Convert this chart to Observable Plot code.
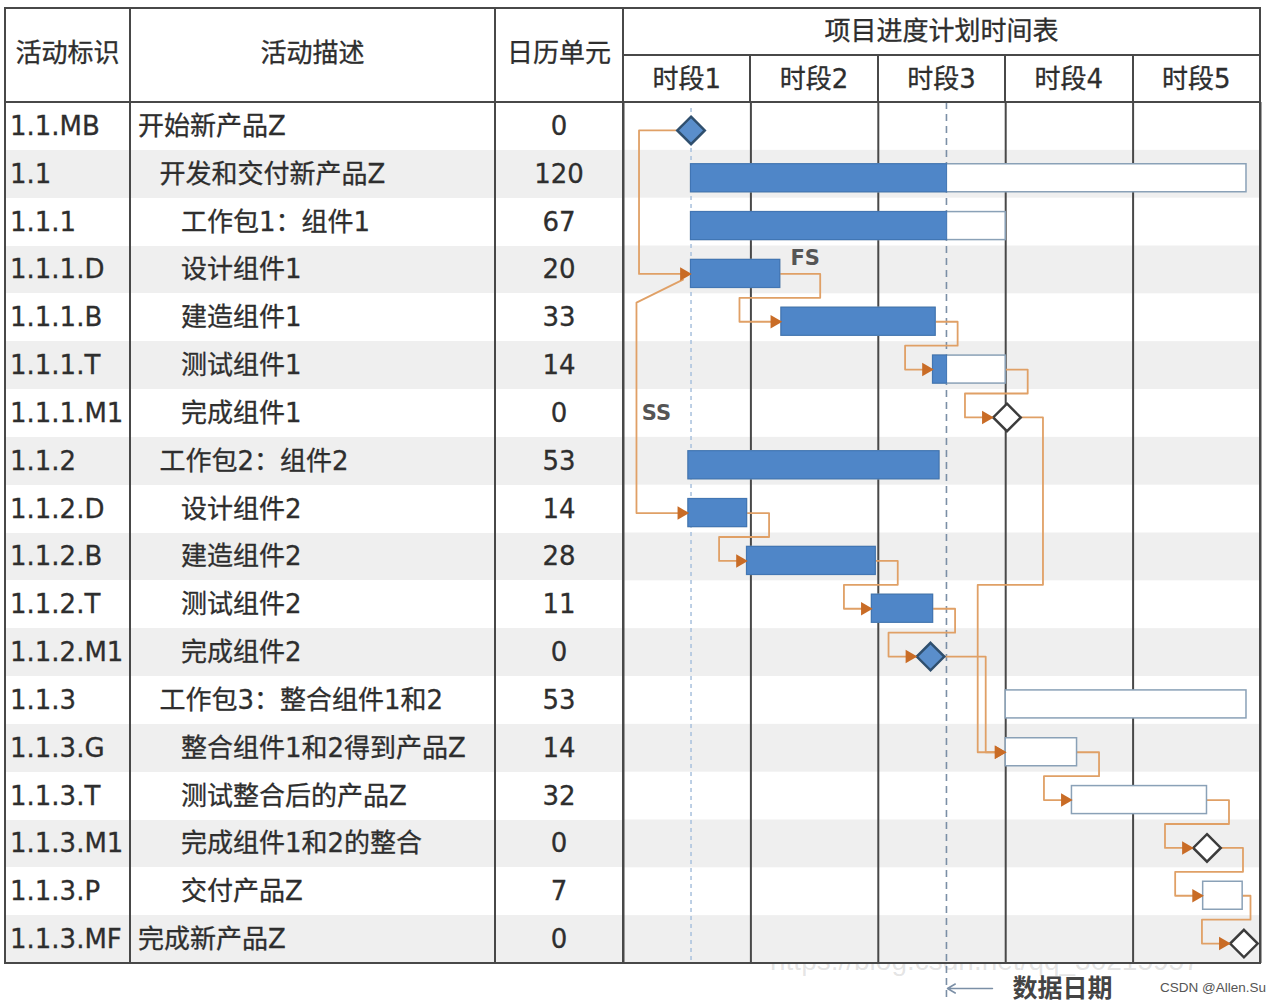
<!DOCTYPE html>
<html lang="zh">
<head>
<meta charset="utf-8">
<script src="https://cdn.jsdelivr.net/npm/d3@7"></script>
<script src="https://cdn.jsdelivr.net/npm/@observablehq/plot@0.6"></script>
<style>
html,body{margin:0;padding:0;background:#fff;}
#page{position:relative;width:1274px;height:1002px;overflow:hidden;
  font-family:"DejaVu Sans","Noto Sans CJK SC",sans-serif;color:#2e2e2e;}
.t{position:absolute;display:flex;align-items:center;white-space:nowrap;font-size:26px;line-height:1;-webkit-text-stroke:0.3px #2e2e2e;}
.c{justify-content:center;}
</style>
</head>
<body>
<div id="page"></div>
<script>
// ---------------- data ----------------
const headers = ["活动标识", "活动描述", "日历单元"];
const scheduleTitle = "项目进度计划时间表";
const periods = ["时段1", "时段2", "时段3", "时段4", "时段5"];

const ids = ["1.1.MB", "1.1", "1.1.1", "1.1.1.D", "1.1.1.B", "1.1.1.T", "1.1.1.M1",
  "1.1.2", "1.1.2.D", "1.1.2.B", "1.1.2.T", "1.1.2.M1",
  "1.1.3", "1.1.3.G", "1.1.3.T", "1.1.3.M1", "1.1.3.P", "1.1.3.MF"];
const descs = ["开始新产品Z", "开发和交付新产品Z", "工作包1：组件1", "设计组件1", "建造组件1", "测试组件1", "完成组件1",
  "工作包2：组件2", "设计组件2", "建造组件2", "测试组件2", "完成组件2",
  "工作包3：整合组件1和2", "整合组件1和2得到产品Z", "测试整合后的产品Z", "完成组件1和2的整合", "交付产品Z", "完成新产品Z"];
const levels = [0, 1, 2, 2, 2, 2, 2, 1, 2, 2, 2, 2, 1, 2, 2, 2, 2, 0];
const durations = [0, 120, 67, 20, 33, 14, 0, 53, 14, 28, 11, 0, 53, 14, 32, 0, 7, 0];
const starts = [0.53, 0.53, 0.53, 0.53, 1.24, 2.43, 3.01, 0.51, 0.51, 0.97, 1.95, 2.41, 3.00, 3.00, 3.52, 4.58, 4.55, 4.87];
const ends   = [0.53, 4.89, 3.00, 1.23, 2.45, 3.00, 3.01, 2.48, 0.97, 1.98, 2.43, 2.41, 4.89, 3.56, 4.58, 4.58, 4.86, 4.87];
// fraction complete at the data date
const progress = [1, 0.461, 0.814, 1, 1, 0.193, 0, 1, 1, 1, 1, 1, 0, 0, 0, 0, 0, 0];
const dataDate = 2.535;
const dataDateLabel = "数据日期";
const links = [
  {from: "1.1.MB", to: "1.1.1.D", type: "SS"},
  {from: "1.1.1.D", to: "1.1.2.D", type: "SS", label: true},
  {from: "1.1.1.D", to: "1.1.1.B", type: "FS", label: true},
  {from: "1.1.1.B", to: "1.1.1.T", type: "FS"},
  {from: "1.1.1.T", to: "1.1.1.M1", type: "FS"},
  {from: "1.1.1.M1", to: "1.1.3.G", type: "FS"},
  {from: "1.1.2.D", to: "1.1.2.B", type: "FS"},
  {from: "1.1.2.B", to: "1.1.2.T", type: "FS"},
  {from: "1.1.2.T", to: "1.1.2.M1", type: "FS"},
  {from: "1.1.2.M1", to: "1.1.3.G", type: "FS"},
  {from: "1.1.3.G", to: "1.1.3.T", type: "FS"},
  {from: "1.1.3.T", to: "1.1.3.M1", type: "FS"},
  {from: "1.1.3.M1", to: "1.1.3.P", type: "FS"},
  {from: "1.1.3.P", to: "1.1.3.MF", type: "FS"}
];
const watermark = "https://blog.csdn.net/qq_30215957";
const credit = "CSDN @Allen.Su";

// ---------------- layout ----------------
const L = {left: 5, right: 1260, top: 8, headMid: 55, headBottom: 102, bottom: 963,
  colEdges: [5, 130, 495, 623], idPad: 5, descPad: 8, indent: 21.5};
const LINE = "#484848";
const STRIPE = "#efefef";
const page = document.getElementById("page");
const rowH = (L.bottom - L.headBottom) / ids.length;
const ganttW = L.right - L.colEdges[3];
const perW = ganttW / periods.length;

function box(style, text, cls) {
  const e = document.createElement("div");
  if (cls) e.className = cls;
  Object.assign(e.style, {position: "absolute"}, style);
  if (text != null) e.textContent = text;
  page.appendChild(e);
  return e;
}
const px = v => v + "px";

// stripes (left part)
ids.forEach((id, i) => {
  if (i % 2 === 1) box({left: px(L.left), top: px(L.headBottom + i * rowH), width: px(L.colEdges[3] - L.left), height: px(rowH), background: STRIPE});
});

// watermark (under everything else)
box({left: "770px", top: "947px", fontFamily: "Liberation Sans, sans-serif", fontSize: "28px", lineHeight: "28px", color: "rgba(120,120,120,0.2)", whiteSpace: "nowrap"}, watermark);

// ---------------- gantt (Plot) ----------------
const rows = ids.map((id, i) => ({id, i, s: starts[i], e: ends[i], pct: progress[i], ms: durations[i] === 0}));
const byId = new Map(rows.map(r => [r.id, r]));
const tasks = rows.filter(r => !r.ms);
const gH = L.bottom - L.headBottom;
const upx = periods.length / ganttW;      // period units per pixel
const rpx = ids.length / gH;              // rows per pixel
const dh = 14 * upx;                      // half width of a milestone diamond
const bh = 14 * rpx;                      // half height of a bar
const GDY = 4;

const linkPts = [], heads = [], labels = [];
links.forEach((lk, k) => {
  const a = byId.get(lk.from), b = byId.get(lk.to);
  const xs = b.s - (b.ms ? dh : 0);
  let pts;
  if (lk.type === "SS") {
    const xv = Math.min(a.s, b.s) - 52 * upx;
    pts = a.ms
      ? [[a.s - dh, a.i], [xv, a.i], [xv, b.i], [xs, b.i]]
      : [[a.s - 8 * upx, a.i + 0.12], [xv, a.i + 0.6], [xv, b.i], [xs, b.i]];
    if (lk.label) labels.push({x: xv + 20 * upx, y: Math.round((a.i + b.i) / 2), text: lk.type});
  } else {
    const xe = a.e + (a.ms ? dh : 0);
    if (xs - xe > 40 * upx) {
      const xm = xs - 20 * upx;
      pts = [[xe, a.i], [xm, a.i], [xm, b.i], [xs, b.i]];
    } else {
      const xr = Math.min(xe + (lk.label ? 40 : 22) * upx, periods.length - 10 * upx);
      const xl = xs - (lk.label ? 42 : 28) * upx;
      const ym = Math.floor((a.i + b.i) / 2) + 0.5;
      pts = [[xe, a.i], [xr, a.i], [xr, ym], [xl, ym], [xl, b.i], [xs, b.i]];
    }
    if (lk.label) labels.push({x: xe + 25 * upx, y: a.i - 12 * rpx, text: lk.type});
  }
  pts.forEach(([x, y]) => linkPts.push({k, x, y}));
  heads.push({x: xs, y: b.i});
});

const yLab = ids.length - 0.5 + 25 * rpx;
const mL = 3, mR = 3, mB = 40;

const chart = Plot.plot({
  width: ganttW + mL + mR,
  height: gH + mB,
  marginLeft: mL, marginRight: mR, marginTop: 0, marginBottom: mB,
  x: {domain: [0, periods.length], axis: null},
  y: {domain: [-0.5, ids.length - 0.5], reverse: true, axis: null},
  style: {background: "transparent", overflow: "visible", fontFamily: "DejaVu Sans, Noto Sans CJK SC, sans-serif"},
  marks: [
    Plot.rect(rows.filter(r => r.i % 2 === 1), {y1: r => r.i - 0.5, y2: r => r.i + 0.5, fill: STRIPE}),
    Plot.ruleX([byId.get(ids[0]).s], {stroke: "#a8c0dd", strokeWidth: 1.5, strokeDasharray: "4,4", insetTop: 6}),
    Plot.ruleX([dataDate], {stroke: "#7b8fa6", strokeWidth: 1.6, strokeDasharray: "7,5", insetBottom: -36}),
    Plot.ruleX(d3.range(periods.length + 1), {stroke: LINE, strokeWidth: 2}),
    Plot.line(linkPts, {x: "x", y: "y", z: "k", stroke: "#e0a066", strokeWidth: 1.8, dy: GDY}),
    Plot.rect(tasks, {x1: "s", x2: "e", y1: r => r.i - bh, y2: r => r.i + bh, fill: "white", stroke: "#8aa1b7", strokeWidth: 1.5, dy: GDY}),
    Plot.rect(tasks.filter(r => r.pct > 0), {x1: "s", x2: r => r.s + r.pct * (r.e - r.s), y1: r => r.i - bh, y2: r => r.i + bh, fill: "#4f86c8", stroke: "#3f74b3", strokeWidth: 1, dy: GDY}),
    Plot.dot(rows.filter(r => r.ms && r.pct >= 1), {x: "s", y: "i", symbol: "diamond2", r: 12.4, fill: "#5a8ecb", stroke: "#2f4f6e", strokeWidth: 2.5, dy: GDY}),
    Plot.dot(rows.filter(r => r.ms && r.pct < 1), {x: "s", y: "i", symbol: "diamond2", r: 12.4, fill: "white", stroke: "#3c3c3c", strokeWidth: 2.5, dy: GDY}),
    Plot.dot(heads, {x: "x", y: "y", symbol: "triangle", rotate: 90, r: 5, fill: "#c96c26", stroke: "none", dx: -7, dy: GDY}),
    Plot.text(labels, {x: "x", y: "y", text: "text", fontSize: 21, fontWeight: "bold", fill: "#555"}),
    Plot.arrow([{x1: dataDate + 46 * upx, x2: dataDate + 1 * upx, y: yLab}], {x1: "x1", x2: "x2", y1: "y", y2: "y", stroke: "#7b8fa6", strokeWidth: 1.5, headLength: 9}),
    Plot.text([dataDateLabel], {x: dataDate + 66 * upx, y: yLab, text: d => d, textAnchor: "start", fontSize: 25, fontWeight: "bold", fill: "#444"})
  ]
});
Object.assign(chart.style, {position: "absolute", left: px(L.colEdges[3] - mL), top: px(L.headBottom)});
page.appendChild(chart);

// ---------------- table text ----------------
ids.forEach((id, i) => {
  const top = px(L.headBottom + i * rowH), h = px(rowH);
  box({left: px(L.left + L.idPad), top, height: h}, id, "t");
  box({left: px(L.colEdges[1] + L.descPad + levels[i] * L.indent), top, height: h}, descs[i], "t");
  box({left: px(L.colEdges[2]), width: px(L.colEdges[3] - L.colEdges[2]), top, height: h}, String(durations[i]), "t c");
});
headers.forEach((h, k) => {
  box({left: px(L.colEdges[k]), width: px(L.colEdges[k + 1] - L.colEdges[k]), top: px(L.top), height: px(L.headBottom - L.top - 4)}, h, "t c");
});
box({left: px(L.colEdges[3]), width: px(ganttW), top: px(L.top), height: px(L.headMid - L.top - 2)}, scheduleTitle, "t c");
periods.forEach((p, k) => {
  box({left: px(L.colEdges[3] + k * perW), width: px(perW), top: px(L.headMid), height: px(L.headBottom - L.headMid)}, p, "t c");
});

// ---------------- grid lines ----------------
function hline(x1, x2, y) { box({left: px(x1 - 1), top: px(y - 1), width: px(x2 - x1 + 2), height: "2px", background: LINE}); }
function vline(x, y1, y2) { box({left: px(x - 1), top: px(y1 - 1), width: "2px", height: px(y2 - y1 + 2), background: LINE}); }
hline(L.left, L.right, L.top);
hline(L.left, L.right, L.headBottom);
hline(L.colEdges[3], L.right, L.headMid);
hline(L.left, L.right, L.bottom);
L.colEdges.forEach(x => vline(x, L.top, L.bottom));
vline(L.right, L.top, L.bottom);
periods.forEach((p, k) => { if (k > 0) vline(L.colEdges[3] + k * perW, L.headMid, L.headBottom); });

// ---------------- credit ----------------
box({left: "1160px", top: "980px", fontFamily: "Liberation Sans, sans-serif", fontSize: "13.5px", lineHeight: "15px", color: "#555", whiteSpace: "nowrap"}, credit);
</script>
</body>
</html>
